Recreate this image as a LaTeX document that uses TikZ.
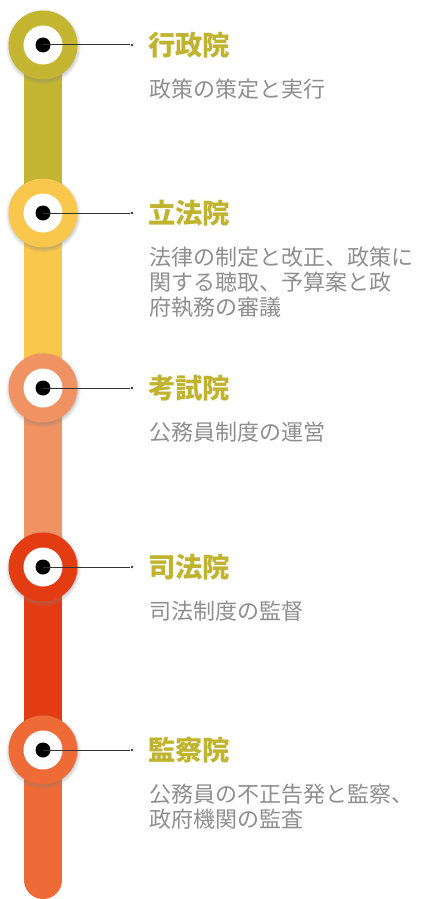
\documentclass[tikz,border=0pt]{standalone}
\usepackage{fontspec}
\usetikzlibrary{shadows}
\newfontfamily\cjk{Noto Sans CJK JP}

\definecolor{gov}{HTML}{C4B630}
\definecolor{law}{HTML}{F9C74B}
\definecolor{exam}{HTML}{F09262}
\definecolor{court}{HTML}{E43C12}
\definecolor{audit}{HTML}{EE6A36}
\definecolor{headcol}{HTML}{C0B330}
\definecolor{textcol}{HTML}{8E8E8E}

\tikzset{
    bar/.style={line width=28.5pt},
    ring/.style={circle, minimum size=51.75pt, inner sep=0pt,
        circular drop shadow={shadow scale=1.1, shadow xshift=0pt,
            shadow yshift=-1pt, opacity=0.45}},
    hole/.style={circle, fill=white, minimum size=29.25pt, inner sep=0pt},
    pin/.style={circle, fill=black, minimum size=11.25pt, inner sep=0pt},
    tip/.style={circle, fill=black!80, minimum size=2pt, inner sep=0pt},
    leader/.style={draw=black!80, line width=0.75pt},
    head/.style={anchor=base west, inner sep=0pt, text=headcol,
        font=\cjk\bfseries\fontsize{20.5}{24}\selectfont},
    info/.style={anchor=north west, inner sep=0pt, align=left, text=textcol,
        font=\cjk\fontsize{16.5}{18.75}\selectfont}
}

\begin{document}
\begin{tikzpicture}[x=0.75pt, y=-0.75pt]
    \useasboundingbox (0,0) rectangle (422,899);
    % centres along the bar
    \coordinate (p1) at (43,45);
    \coordinate (p2) at (43,213);
    \coordinate (p3) at (43,388);
    \coordinate (p4) at (43,567);
    \coordinate (p5) at (43,750);
    \coordinate (bot) at (43,880);

    \draw[bar, gov] (p1) -- (p2);
    \draw[bar, law] (p2) -- (p3);
    \draw[bar, exam] (p3) -- (p4);
    \draw[bar, court] (p4) -- (p5);
    \draw[bar, audit, line cap=round] (p5) -- (bot);

    % rings
    \node[ring, fill=gov] (r1) at (p1) {};
    \node[ring, fill=law] (r2) at (p2) {};
    \node[ring, fill=exam] (r3) at (p3) {};
    \node[ring, fill=court] (r4) at (p4) {};
    \node[ring, fill=audit] (r5) at (p5) {};

    \node[hole] (h1) at (p1) {};
    \node[hole] (h2) at (p2) {};
    \node[hole] (h3) at (p3) {};
    \node[hole] (h4) at (p4) {};
    \node[hole] (h5) at (p5) {};

    \node[pin] (d1) at (p1) {};
    \node[pin] (d2) at (p2) {};
    \node[pin] (d3) at (p3) {};
    \node[pin] (d4) at (p4) {};
    \node[pin] (d5) at (p5) {};

    % leaders
    \node[tip] (e1) at (132,45) {};
    \node[tip] (e2) at (132,213) {};
    \node[tip] (e3) at (132,388) {};
    \node[tip] (e4) at (132,567) {};
    \node[tip] (e5) at (132,750) {};
    \draw[leader] (d1.center) -- (e1);
    \draw[leader] (d2.center) -- (e2);
    \draw[leader] (d3.center) -- (e3);
    \draw[leader] (d4.center) -- (e4);
    \draw[leader] (d5.center) -- (e5);

    % labels
    \node[head] (t1) at (148,55.5) {行政院};
    \node[head] (t2) at (148,223.5) {立法院};
    \node[head] (t3) at (148,398.5) {考試院};
    \node[head] (t4) at (148,577.5) {司法院};
    \node[head] (t5) at (148,760.5) {監察院};

    \node[info] (s1) at (149,79) {政策の策定と実行};
    \node[info] (s2) at (149,247) {法律の制定と改正、政策に\\関する聴取、予算案と政\\府執務の審議};
    \node[info] (s3) at (149,422) {公務員制度の運営};
    \node[info] (s4) at (149,601) {司法制度の監督};
    \node[info] (s5) at (149,784) {公務員の不正告発と監察、\\政府機関の監査};
\end{tikzpicture}
\end{document}
